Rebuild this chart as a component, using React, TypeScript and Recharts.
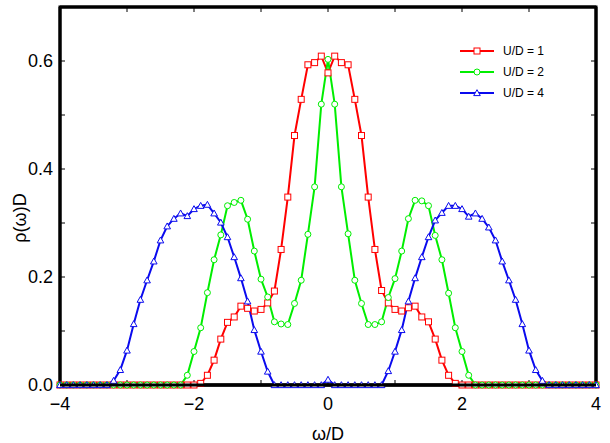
import React from 'react';
import { LineChart, Line, XAxis, YAxis, Legend, ReferenceArea, ReferenceLine } from 'recharts';

const omega = [
  -4.0, -3.9, -3.8, -3.7, -3.6, -3.5, -3.4, -3.3, -3.2, -3.1,
  -3.0, -2.9, -2.8, -2.7, -2.6, -2.5, -2.4, -2.3, -2.2, -2.1,
  -2.0, -1.9, -1.8, -1.7, -1.6, -1.5, -1.4, -1.3, -1.2, -1.1,
  -1.0, -0.9, -0.8, -0.7, -0.6, -0.5, -0.4, -0.3, -0.2, -0.1,
  0.0,
  0.1, 0.2, 0.3, 0.4, 0.5, 0.6, 0.7, 0.8, 0.9, 1.0,
  1.1, 1.2, 1.3, 1.4, 1.5, 1.6, 1.7, 1.8, 1.9, 2.0,
  2.1, 2.2, 2.3, 2.4, 2.5, 2.6, 2.7, 2.8, 2.9, 3.0,
  3.1, 3.2, 3.3, 3.4, 3.5, 3.6, 3.7, 3.8, 3.9, 4.0,
];

const rhoU1 = [
  0, 0, 0, 0, 0, 0, 0, 0, 0, 0,
  0, 0, 0, 0, 0, 0, 0, 0, 0, 0,
  0, 0.003, 0.018, 0.046, 0.085, 0.116, 0.126, 0.146, 0.142, 0.137,
  0.140, 0.152, 0.174, 0.251, 0.348, 0.462, 0.529, 0.593, 0.597, 0.609,
  0.578,
  0.609, 0.597, 0.593, 0.529, 0.462, 0.348, 0.251, 0.175, 0.152, 0.140,
  0.137, 0.143, 0.146, 0.126, 0.117, 0.085, 0.046, 0.018, 0.003, 0,
  0, 0, 0, 0, 0, 0, 0, 0, 0, 0,
  0, 0, 0, 0, 0, 0, 0, 0, 0, 0,
];

const rhoU2 = [
  0, 0, 0, 0, 0, 0, 0, 0, 0, 0,
  0, 0, 0, 0, 0, 0, 0, 0, 0, 0.018,
  0.062, 0.106, 0.171, 0.232, 0.278, 0.332, 0.338, 0.342, 0.307, 0.248,
  0.196, 0.163, 0.117, 0.113, 0.112, 0.151, 0.194, 0.279, 0.367, 0.520,
  0.603,
  0.520, 0.367, 0.280, 0.194, 0.151, 0.112, 0.112, 0.117, 0.162, 0.197,
  0.248, 0.308, 0.342, 0.341, 0.332, 0.277, 0.232, 0.170, 0.106, 0.062,
  0.018, 0, 0, 0, 0, 0, 0, 0, 0, 0,
  0, 0, 0, 0, 0, 0, 0, 0, 0, 0,
];

const rhoU4 = [
  0, 0, 0, 0, 0, 0, 0, 0, 0.008, 0.028,
  0.064, 0.113, 0.158, 0.194, 0.229, 0.268, 0.294, 0.308, 0.318, 0.313,
  0.326, 0.332, 0.334, 0.318, 0.301, 0.274, 0.237, 0.198, 0.155, 0.102,
  0.062, 0.025, 0, 0, 0, 0, 0, 0, 0, 0,
  0.010,
  0, 0, 0, 0, 0, 0, 0, 0, 0.026, 0.062,
  0.102, 0.155, 0.198, 0.237, 0.274, 0.305, 0.319, 0.332, 0.332, 0.326,
  0.312, 0.318, 0.308, 0.292, 0.268, 0.229, 0.194, 0.158, 0.113, 0.064,
  0.028, 0.008, 0, 0, 0, 0, 0, 0, 0, 0,
];

const seriesNames = ['U/D = 1', 'U/D = 2', 'U/D = 4'];
const xTicks = [-4, -3, -2, -1, 0, 1, 2, 3, 4];
const yTicks = [0, 0.1, 0.2, 0.3, 0.4, 0.5, 0.6];

const RED = '#ff0000';
const GREEN = '#00ee00';
const BLUE = '#0a0aee';
const FONT = '"Liberation Sans", Arial, Helvetica, sans-serif';

const data = omega.map((w, i) => ({ w, r1: rhoU1[i], r2: rhoU2[i], r4: rhoU4[i] }));

const SquareDot = (props: any) => {
  const { cx, cy, index } = props;
  if (cx == null || cy == null) return <g key={`s${index}`} />;
  return <rect key={`s${index}`} x={cx - 3} y={cy - 3} width={6} height={6} fill="#fff" stroke={RED} strokeWidth={1} />;
};
const CircleDot = (props: any) => {
  const { cx, cy, index } = props;
  if (cx == null || cy == null) return <g key={`c${index}`} />;
  return <circle key={`c${index}`} cx={cx} cy={cy} r={3} fill="#fff" stroke={GREEN} strokeWidth={1} />;
};
const TriDot = (props: any) => {
  const { cx, cy, index } = props;
  if (cx == null || cy == null) return <g key={`t${index}`} />;
  const s = 3.3;
  return (
    <polygon
      key={`t${index}`}
      points={`${cx},${cy - s} ${cx - s},${cy + s * 0.8} ${cx + s},${cy + s * 0.8}`}
      fill="#fff"
      stroke={BLUE}
      strokeWidth={1}
    />
  );
};

const fmtX = (v: number) => (v % 2 === 0 ? (v < 0 ? `\u2212${Math.abs(v)}` : `${v}`) : '');
const fmtY = (v: number) => {
  const k = Math.round(v * 10);
  return k % 2 === 0 ? v.toFixed(1) : '';
};

const renderLegend = () => {
  const colors = [RED, GREEN, BLUE];
  return (
    <div style={{ fontFamily: FONT, fontSize: 12, color: '#000' }}>
      {seriesNames.map((name, i) => (
        <div key={name} style={{ display: 'flex', alignItems: 'center', height: 21 }}>
          <svg width={34} height={12} style={{ marginRight: 9 }}>
            <line x1={0} y1={6} x2={34} y2={6} stroke={colors[i]} strokeWidth={2} />
            {i === 0 && <rect x={14} y={3} width={6} height={6} fill="#fff" stroke={RED} />}
            {i === 1 && <circle cx={17} cy={6} r={3} fill="#fff" stroke={GREEN} />}
            {i === 2 && <polygon points="17,2.7 13.7,8.6 20.3,8.6" fill="#fff" stroke={BLUE} />}
          </svg>
          <span>{name}</span>
        </div>
      ))}
    </div>
  );
};

const XLabel = (props: any) => {
  const vb = props.viewBox || { x: 60, y: 385, width: 536, height: 58 };
  return (
    <text x={vb.x + vb.width / 2} y={vb.y + vb.height - 3} textAnchor="middle" fontFamily={FONT} fontSize={18} fill="#000">
      ω/D
    </text>
  );
};
const YLabel = (props: any) => {
  const vb = props.viewBox || { x: 0, y: 7, width: 60, height: 378 };
  const cx = vb.x + 20;
  const cy = vb.y + vb.height / 2 + 22;
  return (
    <text
      x={cx}
      y={cy}
      transform={`rotate(-90, ${cx}, ${cy})`}
      textAnchor="middle"
      dominantBaseline="central"
      fontFamily={FONT}
      fontSize={18}
      fill="#000"
    >
      ρ(ω)D
    </text>
  );
};

const tickStyle = { fontFamily: FONT, fontSize: 18, fill: '#000' };

export default function App() {
  return (
    <div style={{ position: 'absolute', left: 0, top: 0, background: '#fff' }}>
      <LineChart width={610} height={443} data={data} margin={{ top: 0, right: 0, bottom: 0, left: 0 }}>
        <XAxis
          dataKey="w"
          type="number"
          domain={[-4, 4]}
          ticks={xTicks}
          interval={0}
          tickFormatter={fmtX}
          tickSize={-5}
          tickMargin={17}
          height={58}
          tick={tickStyle}
          axisLine={{ stroke: '#000', strokeWidth: 3 }}
          tickLine={{ stroke: '#000', strokeWidth: 1 }}
          label={<XLabel />}
        />
        <XAxis
          xAxisId="top"
          dataKey="w"
          orientation="top"
          type="number"
          domain={[-4, 4]}
          ticks={xTicks}
          interval={0}
          tickFormatter={() => ''}
          tickSize={-5}
          height={7}
          axisLine={{ stroke: '#000', strokeWidth: 3 }}
          tickLine={{ stroke: '#000', strokeWidth: 1 }}
        />
        <YAxis
          type="number"
          domain={[0, 0.7]}
          ticks={yTicks}
          interval={0}
          tickFormatter={fmtY}
          tickSize={-5}
          tickMargin={12}
          width={60}
          tick={tickStyle}
          axisLine={{ stroke: '#000', strokeWidth: 3 }}
          tickLine={{ stroke: '#000', strokeWidth: 1 }}
          label={<YLabel />}
        />
        <YAxis
          yAxisId="right"
          orientation="right"
          type="number"
          domain={[0, 0.7]}
          ticks={yTicks}
          interval={0}
          tickFormatter={() => ''}
          tickSize={-5}
          width={14}
          axisLine={{ stroke: '#000', strokeWidth: 3 }}
          tickLine={{ stroke: '#000', strokeWidth: 1 }}
        />
        <Legend
          content={renderLegend}
          layout="vertical"
          align="center"
          verticalAlign="middle"
          wrapperStyle={{ left: 460, top: 40, width: 130 }}
        />
        <Line
          xAxisId="top"
          yAxisId="right"
          dataKey="r1"
          stroke="none"
          dot={false}
          activeDot={false}
          legendType="none"
          isAnimationActive={false}
        />
        <Line dataKey="r1" name={seriesNames[0]} stroke={RED} strokeWidth={2} dot={SquareDot} isAnimationActive={false} />
        <Line dataKey="r2" name={seriesNames[1]} stroke={GREEN} strokeWidth={2} dot={CircleDot} isAnimationActive={false} />
        <Line dataKey="r4" name={seriesNames[2]} stroke={BLUE} strokeWidth={2} dot={TriDot} isAnimationActive={false} />
        <ReferenceArea x1={-4} x2={4} y1={0} y2={0.7} fill="none" fillOpacity={0} stroke="#000" strokeWidth={3} ifOverflow="visible" />
        <ReferenceLine y={0} stroke="#000" strokeWidth={3} zIndex={1000} />
      </LineChart>
    </div>
  );
}
